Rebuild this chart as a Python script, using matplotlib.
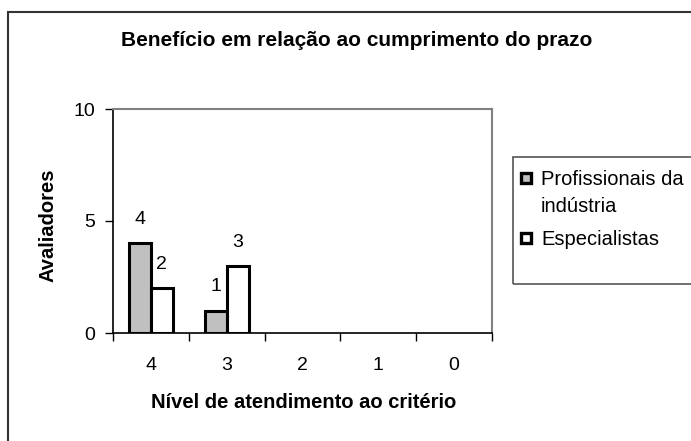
import matplotlib as mpl
import matplotlib.pyplot as plt
from matplotlib.patches import Rectangle

mpl.rcParams.update({
    "font.family": ["Liberation Sans", "DejaVu Sans"],
    "font.size": 14,
})

levels = ["4", "3", "2", "1", "0"]
profissionais = [4, 1, 0, 0, 0]
especialistas = [2, 3, 0, 0, 0]
series_names = ["Profissionais da\nindústria", "Especialistas"]
series_colors = ["#c0c0c0", "white"]

W, H = 691, 441
fig = plt.figure(figsize=(W / 100, H / 100), dpi=100)


def fx(px):
    return px / W


def fy(py):
    return 1 - py / H


# outer chart border (extends past the right and bottom edges)
fig.patches.append(Rectangle((fx(8), fy(460)), fx(700), fy(12) - fy(460),
                             transform=fig.transFigure, fill=False,
                             edgecolor="#333333", linewidth=1.5))

ax = fig.add_axes([fx(113), fy(333), fx(492) - fx(113), fy(109) - fy(333)])

x = list(range(len(levels)))
w = 0.29
b1 = ax.bar([i - w / 2 for i in x], profissionais, w, color=series_colors[0],
            edgecolor="black", linewidth=2.2)
b2 = ax.bar([i + w / 2 for i in x], especialistas, w, color=series_colors[1],
            edgecolor="black", linewidth=2.2)

for bars, vals in ((b1, profissionais), (b2, especialistas)):
    for r, v in zip(bars, vals):
        if v:
            ax.annotate(str(v), (r.get_x() + r.get_width() / 2, v),
                        xytext=(0, 11), textcoords="offset points",
                        ha="center", va="bottom", fontsize=14)
        else:
            r.set_visible(False)

ax.set_xlim(-0.5, len(levels) - 0.5)
ax.set_ylim(0, 10)
ax.set_yticks([0, 5, 10])
ax.set_xticks(x)
ax.set_xticklabels(levels)
ax.set_xticks([i - 0.5 for i in range(len(levels) + 1)], minor=True)
ax.tick_params(axis="x", which="major", length=0, pad=17)
ax.tick_params(axis="x", which="minor", length=6, width=1, direction="out")
ax.tick_params(axis="y", length=6, width=1, direction="out", pad=7)

ax.spines["left"].set_color("black")
ax.spines["bottom"].set_color("black")
ax.spines["top"].set_color("#808080")
ax.spines["right"].set_color("#808080")
for s in ax.spines.values():
    s.set_linewidth(1.2)
ax.spines["top"].set_linewidth(1.5)
ax.spines["right"].set_linewidth(1.5)

fig.text(fx(357), fy(40), "Benefício em relação ao cumprimento do prazo",
         ha="center", va="center", fontsize=15, fontweight="bold")
fig.text(fx(48), fy(225), "Avaliadores", ha="center", va="center",
         rotation=90, fontsize=14.5, fontweight="bold")
fig.text(fx(304), fy(403), "Nível de atendimento ao critério",
         ha="center", va="center", fontsize=14.5, fontweight="bold")

# legend box, drawn by hand so the key sits on the first text line
fig.patches.append(Rectangle((fx(513), fy(284)), fx(700) - fx(513), fy(157) - fy(284),
                             transform=fig.transFigure, fill=False,
                             edgecolor="#555555", linewidth=1.2))
for k, (name, col) in enumerate(zip(series_names, series_colors)):
    yc = 178 + 60 * k
    fig.patches.append(Rectangle((fx(521), fy(yc + 5)), fx(10), fy(0) - fy(10),
                                 transform=fig.transFigure, facecolor=col,
                                 edgecolor="black", linewidth=2.4))
    for j, line in enumerate(name.split("\n")):
        fig.text(fx(541), fy(yc + 7 + 27 * j), line, ha="left",
                 va="baseline", fontsize=14.5)

fig.savefig("out.png", dpi=100)
